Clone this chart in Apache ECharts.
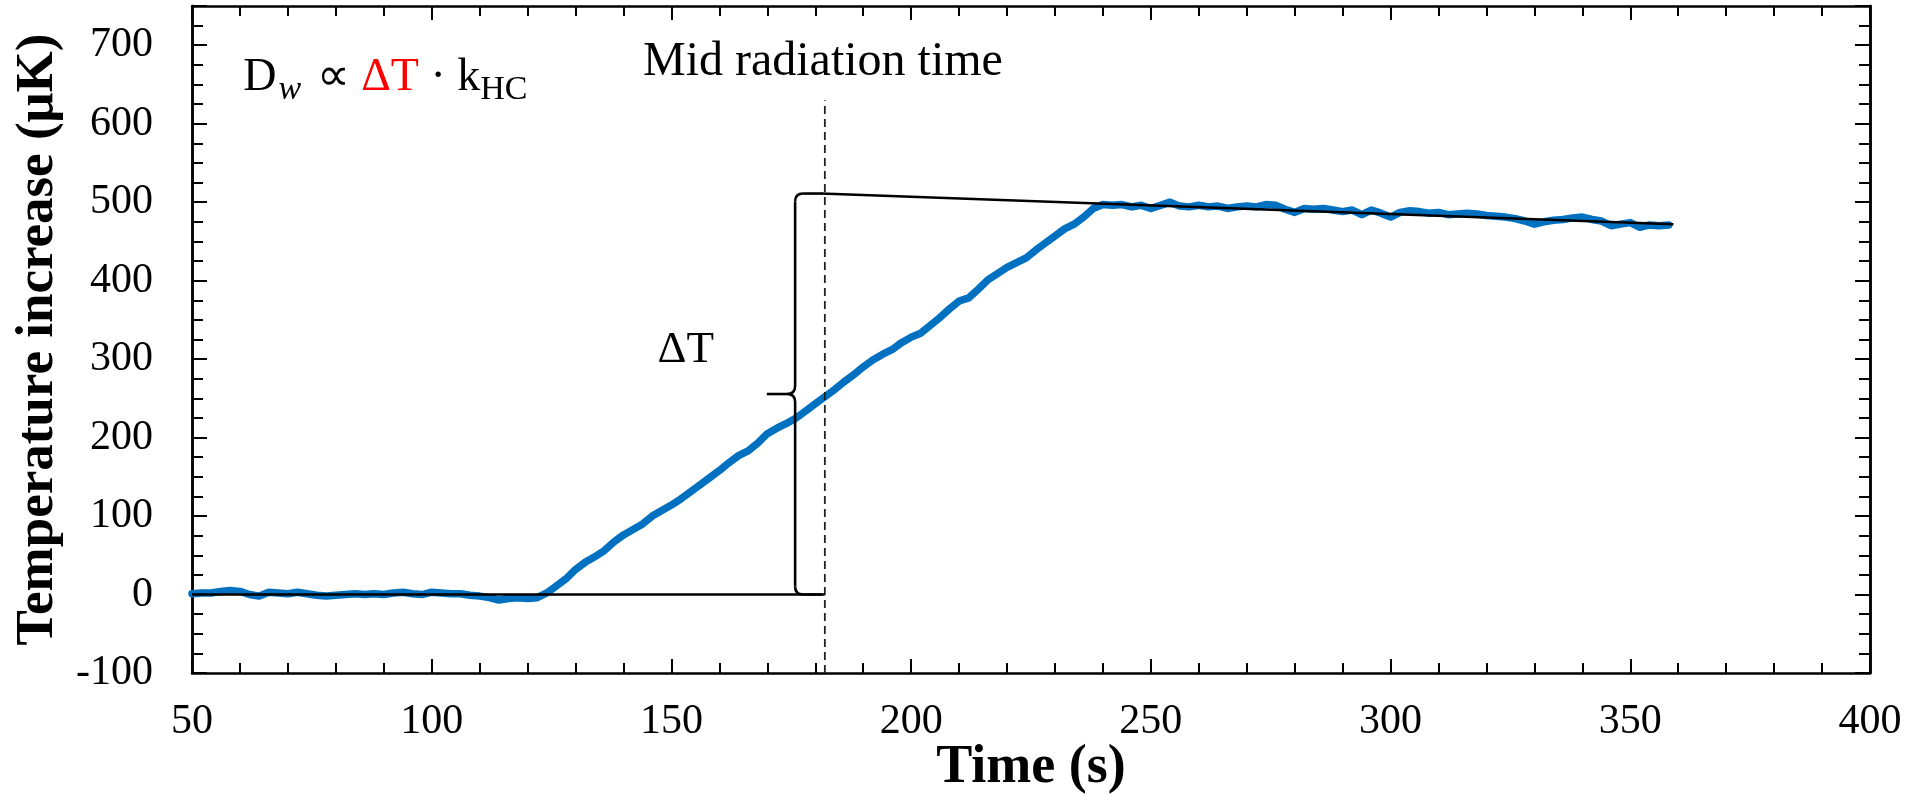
<!DOCTYPE html>
<html>
<head>
<meta charset="utf-8">
<script src="https://cdn.jsdelivr.net/npm/echarts@6/dist/echarts.min.js"></script>
<style>
  html, body { margin: 0; padding: 0; background: #fff; }
  #chart-container { width: 1909px; height: 795px; }
</style>
</head>
<body>
<div id="chart-container"></div>
<script>
var dom = document.getElementById("chart-container");
var myChart = echarts.init(dom, null, { renderer: "canvas" });

const serif = "Liberation Serif";

// measured temperature trace (s, uK)
const times = [
  50, 52, 54, 56, 58, 60, 62, 64, 66, 68,
  70, 72, 74, 76, 78, 80, 82, 84, 86, 88,
  90, 92, 94, 96, 98, 100, 102, 104, 106, 108,
  110, 112, 114, 116, 118, 120, 122, 124, 126, 128,
  130, 132, 134, 136, 138, 140, 142, 144, 146, 148,
  150, 152, 154, 156, 158, 160, 162, 164, 166, 168,
  170, 172, 174, 176, 178, 180, 182, 184, 186, 188,
  190, 192, 194, 196, 198, 200, 202, 204, 206, 208,
  210, 212, 214, 216, 218, 220, 222, 224, 226, 228,
  230, 232, 234, 236, 238, 240, 242, 244, 246, 248,
  250, 252, 254, 256, 258, 260, 262, 264, 266, 268,
  270, 272, 274, 276, 278, 280, 282, 284, 286, 288,
  290, 292, 294, 296, 298, 300, 302, 304, 306, 308,
  310, 312, 314, 316, 318, 320, 322, 324, 326, 328,
  330, 332, 334, 336, 338, 340, 342, 344, 346, 348,
  350, 352, 354, 356, 358
];
const temps = [
  1, 2, 2, 4, 5, 4, 0, -2, 3, 2,
  1, 3, 1, -1, -2, -1, 0, 1, 0, 1,
  0, 2, 3, 1, 0, 3, 2, 1, 1, -1,
  -2, -4, -7, -5, -4, -5, -4, 2, 11, 20,
  32, 41, 48, 56, 67, 76, 83, 90, 100, 107,
  114, 122, 131, 140, 149, 158, 168, 177, 183, 193,
  205, 212, 218, 225, 234, 243, 252, 261, 271, 280,
  290, 299, 306, 312, 321, 328, 333, 343, 353, 364,
  374, 378, 389, 401, 409, 417, 423, 429, 439, 448,
  457, 466, 472, 481, 492, 497, 496, 497, 494, 496,
  492, 496, 500, 495, 494, 496, 494, 495, 492, 494,
  495, 494, 497, 496, 491, 487, 492, 491, 492, 490,
  488, 490, 484, 490, 486, 481, 487, 489, 488, 486,
  487, 484, 485, 486, 485, 483, 482, 481, 479, 476,
  472, 475, 477, 478, 480, 481, 478, 476, 470, 472,
  474, 468, 471, 470, 471
];

// annotation geometry in data units
const midTime = 182;
const zeroLineX = [50, 182];
const zeroLineY = [0, 0];
const fitLineX = [181.2, 359];
const fitLineY = [511, 472];
const dashY = [-100, 630];
const braceX = 175.8, braceTipX = 169.9, braceEndX = 181.4;
const braceBottom = 0, braceTop = 511;

const black = "#000";
const tickStyle = { color: black, width: 2 };

function xAxisOf(position, withLabels) {
  return {
    type: "value",
    position: position,
    min: 50,
    max: 400,
    interval: 50,
    axisLine: { show: true, onZero: false, lineStyle: { color: black, width: 2.5 } },
    axisTick: { show: true, inside: true, length: 14, lineStyle: tickStyle },
    minorTick: { show: true, splitNumber: 5, length: 10, lineStyle: tickStyle },
    splitLine: { show: false },
    axisLabel: { show: withLabels, fontSize: 42, fontFamily: serif, color: black, margin: 28 },
  };
}

function yAxisOf(position, interval, tickLen, withLabels) {
  return {
    type: "value",
    position: position,
    min: -100,
    max: 750,
    interval: interval,
    axisLine: { show: true, onZero: false, lineStyle: { color: black, width: 2.5 } },
    axisTick: { show: true, inside: true, length: tickLen, lineStyle: tickStyle },
    splitLine: { show: false },
    axisLabel: {
      show: withLabels,
      fontSize: 42,
      fontFamily: serif,
      color: black,
      margin: 39,
      formatter: function (v) { return v === 750 ? "" : String(v); },
    },
  };
}

var xBottom = xAxisOf("bottom", true);
xBottom.name = "Time (s)";
xBottom.nameLocation = "middle";
xBottom.nameGap = 68;
xBottom.nameMoveOverlap = false;
xBottom.nameTextStyle = { fontSize: 54, fontWeight: "bold", fontFamily: serif, color: black };

var yLeft = yAxisOf("left", 100, 15, true);
yLeft.name = "Temperature increase (μK)";
yLeft.nameLocation = "middle";
yLeft.nameGap = 118;
yLeft.nameTextStyle = { fontSize: 53, fontWeight: "bold", fontFamily: serif, color: black };

function pair(xs, ys) {
  return xs.map(function (x, i) { return [x, ys[i]]; });
}

function renderAnnotations(params, api) {
  const p = function (x, y) { return api.coord([x, y]); };
  const xv = p(braceX, 0)[0], xt = p(braceTipX, 0)[0], xe = p(braceEndX, 0)[0];
  const yb = p(0, braceBottom)[1], yt = p(0, braceTop)[1];
  const ym = (yb + yt) / 2;
  const r = 8;
  const ls = { stroke: black, lineWidth: 2.6, fill: null };
  const seg = function (x1, y1, x2, y2) {
    return { type: "line", shape: { x1: x1, y1: y1, x2: x2, y2: y2 }, style: ls };
  };
  const crv = function (x1, y1, cx, cy, x2, y2) {
    return { type: "bezierCurve", shape: { x1: x1, y1: y1, cpx1: cx, cpy1: cy, x2: x2, y2: y2 }, style: ls };
  };
  const mid = p(181.6, 678);
  const dt = p(153, 311);
  const eq = p(60.7, 658);
  return {
    type: "group",
    children: [
      seg(xe, yb, xv + r, yb),
      crv(xv + r, yb, xv, yb, xv, yb - r),
      seg(xv, yb - r, xv, ym + r),
      crv(xv, ym + r, xv, ym, xv - r, ym),
      seg(xv - r, ym, xt, ym),
      crv(xv - r, ym, xv, ym, xv, ym - r),
      seg(xv, ym - r, xv, yt + r),
      crv(xv, yt + r, xv, yt, xv + r, yt),
      seg(xv + r, yt, xe, yt),
      {
        type: "text", x: mid[0], y: mid[1],
        style: { text: "Mid radiation time", fontSize: 48, fontFamily: serif, fill: black, align: "center", verticalAlign: "middle" },
      },
      {
        type: "text", x: dt[0], y: dt[1],
        style: { text: "ΔT", fontSize: 45, fontFamily: serif, fill: black, align: "center", verticalAlign: "middle" },
      },
      {
        type: "text", x: eq[0], y: eq[1],
        style: {
          text: "{n|D}{si|w}{n| ∝ }{r|ΔT}{n| · k}{s|HC}",
          align: "left",
          verticalAlign: "middle",
          rich: {
            n: { fontSize: 46, fontFamily: serif, fill: black },
            r: { fontSize: 46, fontFamily: serif, fill: "#ff0000" },
            s: { fontSize: 34, fontFamily: serif, fill: black, padding: [24, 0, 0, 0] },
            si: { fontSize: 34, fontFamily: serif, fontStyle: "italic", fill: black, padding: [24, 4, 0, 2] },
          },
        },
      },
    ],
  };
}

var option = {
  animation: false,
  backgroundColor: "#fff",
  grid: { left: 192, right: 39, top: 6, bottom: 122, containLabel: false, outerBoundsMode: "none" },
  xAxis: [xBottom, xAxisOf("top", false)],
  yAxis: [
    yLeft,
    yAxisOf("left", 25, 11, false),
    yAxisOf("right", 100, 15, false),
    yAxisOf("right", 25, 11, false),
  ],
  series: [
    {
      name: "Temperature",
      type: "line",
      data: pair(times, temps),
      showSymbol: false,
      lineStyle: { color: "#0070C0", width: 7.5, cap: "round", join: "round" },
      z: 2,
    },
    {
      type: "line",
      data: pair(zeroLineX, zeroLineY),
      showSymbol: false,
      lineStyle: { color: black, width: 2.5 },
      z: 3,
    },
    {
      type: "line",
      data: pair(fitLineX, fitLineY),
      showSymbol: false,
      lineStyle: { color: black, width: 2.5 },
      z: 3,
    },
    {
      type: "line",
      data: [[midTime, dashY[0]], [midTime, dashY[1]]],
      showSymbol: false,
      lineStyle: { color: "#222", width: 1.8, type: [8, 5] },
      z: 3,
    },
    {
      type: "custom",
      renderItem: renderAnnotations,
      data: [[midTime, 0]],
      clip: false,
      z: 4,
    },
  ],
};

myChart.setOption(option);
window.addEventListener("resize", myChart.resize);
</script>
</body>
</html>
